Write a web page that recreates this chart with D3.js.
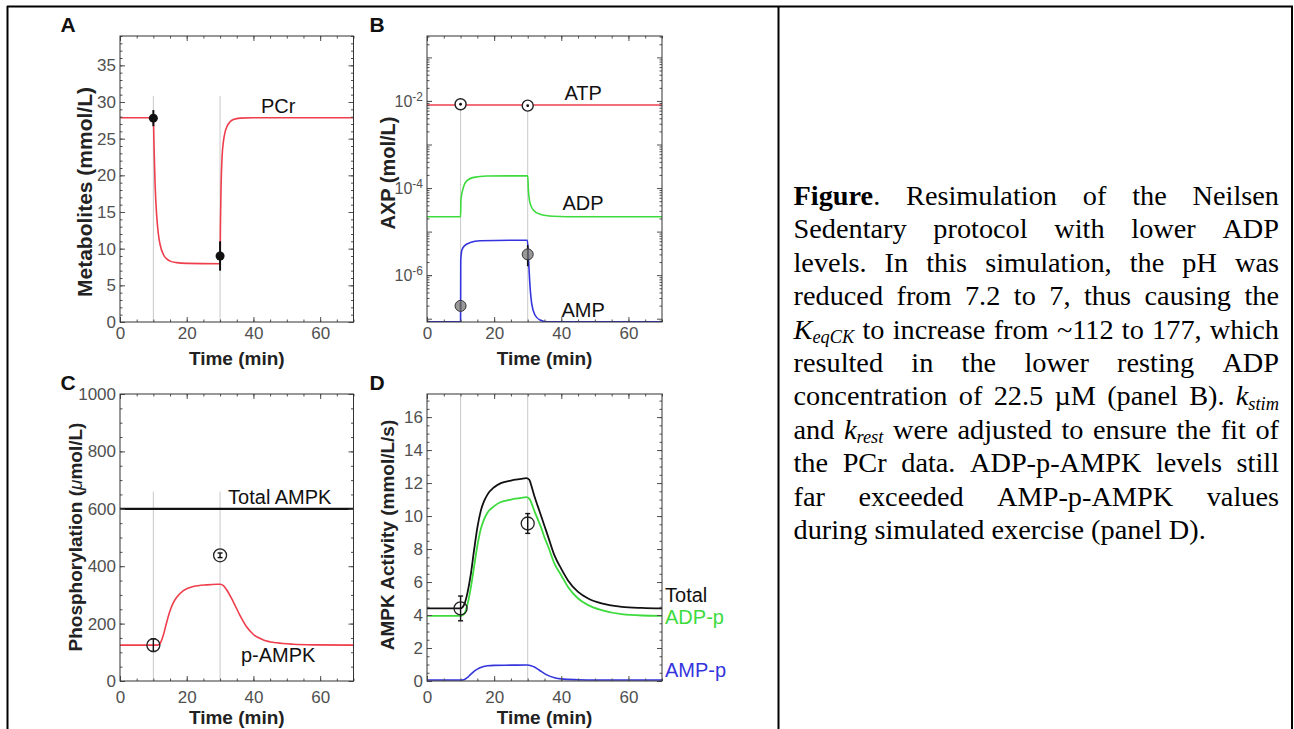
<!DOCTYPE html>
<html>
<head>
<meta charset="utf-8">
<script src="https://cdn.jsdelivr.net/npm/d3@7.9.0/dist/d3.min.js"></script>
<style>
  body { margin: 0; background: #fff; }
  svg { display: block; }
</style>
</head>
<body>
<svg id="fig" width="1294" height="729"></svg>
<script>
// ---------- data ----------
// shared time axis (min)
const timeDomain = [0, 70];
const timeMajor = [0, 20, 40, 60];
const obsTime = [10, 30];

// A: PCr (mmol/L)
const pcrTime = [0, 10, 10.2, 10.5, 11, 11.5, 12, 13, 14, 15, 17, 20, 30, 30.1, 30.3, 30.6, 31, 31.5, 32, 33, 34, 36, 40, 70];
const pcrConc = [27.85, 27.85, 24, 19, 14.5, 12, 10.6, 9.2, 8.6, 8.3, 8.1, 8.0, 7.95, 13, 18.5, 22.5, 24.6, 25.9, 26.6, 27.3, 27.6, 27.8, 27.85, 27.85];
const pcrObs = [27.8, 9.0];
const pcrObsErr = [1.1, 2.0];

// B: adenine nucleotides (mol/L)
const atpTime = [0, 70];
const atpConc = [8.1e-3, 8.1e-3];
const adpTime = [0, 10, 10.1, 10.9, 11.9, 13.9, 17.8, 30, 30.2, 30.7, 31.7, 33.7, 37.6, 41.6, 70];
const adpConc = [2.2e-5, 2.2e-5, 5.3e-5, 1.07e-4, 1.48e-4, 1.76e-4, 1.89e-4, 1.92e-4, 9.0e-5, 4.5e-5, 3.1e-5, 2.5e-5, 2.25e-5, 2.2e-5, 2.2e-5];
const ampTime = [0, 10, 10.05, 10.4, 11.4, 12.9, 15.8, 29.9, 30.3, 30.7, 31.2, 32.2, 33.7, 35.7, 70];
const ampConc = [8.5e-8, 8.5e-8, 2.2e-6, 3.8e-6, 4.9e-6, 5.6e-6, 6.15e-6, 6.35e-6, 1.86e-6, 5.4e-7, 2.2e-7, 1.2e-7, 9.3e-8, 8.5e-8, 8.5e-8];
const atpObs = [8.4e-3, 7.8e-3];
const ampObs = [1.97e-7, 3.0e-6];
const ampObsLo = [1.6e-7, 1.6e-6];
const ampObsHi = [2.4e-7, 4.9e-6];

// C: phosphorylation (umol/L)
const pampkTime = [0, 10, 11.5, 12, 13, 14, 15, 16, 17, 19, 22, 26, 29, 30, 31, 32, 34, 36, 38, 40, 43, 47, 52, 58, 70];
const pampkConc = [125, 125, 126, 130, 160, 205, 245, 273, 292, 315, 329, 335, 337, 337, 332, 317, 275, 228, 188, 162, 143, 133, 128, 126, 125];
const totalAmpkTime = [0, 70];
const totalAmpkConc = [600, 600];
const pampkObs = [125, 438];
const pampkObsErr = [22, 8];

// D: AMPK activity (mmol/L/s)
const actTime = [0, 10, 11, 12, 13, 14, 15, 16, 17, 18, 20, 22, 25, 28, 29.5, 30.5, 31, 32, 33, 34, 35, 36, 38, 40, 42, 45, 48, 52, 58, 64, 70];
const actTotal = [4.4, 4.4, 4.6, 5.3, 6.4, 7.9, 9.3, 10.3, 10.9, 11.3, 11.75, 12.0, 12.15, 12.25, 12.3, 12.2, 11.9, 11.2, 10.6, 10.0, 9.4, 8.8, 7.6, 6.8, 6.1, 5.4, 5.0, 4.7, 4.5, 4.43, 4.4];
const actAdp = [3.95, 3.95, 4.05, 4.6, 5.6, 6.9, 8.2, 9.2, 9.8, 10.2, 10.6, 10.85, 11.0, 11.1, 11.15, 11.05, 10.85, 10.3, 9.8, 9.3, 8.7, 8.2, 7.1, 6.4, 5.7, 5.0, 4.6, 4.3, 4.05, 3.97, 3.95];
const actAmpTime = [0, 10, 11, 12, 13, 14, 15, 16, 18, 20, 25, 30, 31, 32, 33, 34, 35, 36, 38, 40, 45, 50, 70];
const actAmp = [0.06, 0.06, 0.08, 0.2, 0.4, 0.58, 0.72, 0.82, 0.92, 0.95, 0.96, 0.97, 0.93, 0.85, 0.72, 0.58, 0.45, 0.34, 0.2, 0.13, 0.08, 0.06, 0.06];
const actObs = [4.4, 9.55];
const actObsErr = [0.75, 0.6];

// caption (right cell of the table)
const captionLines = [
  "*Figure*. Resimulation of the Neilsen",
  "Sedentary protocol with lower ADP",
  "levels. In this simulation, the pH was",
  "reduced from 7.2 to 7, thus causing the",
  "_K_{eqCK} to increase from ~112 to 177, which",
  "resulted in the lower resting ADP",
  "concentration of 22.5 µM (panel B). _k_{stim}",
  "and _k_{rest} were adjusted to ensure the fit of",
  "the PCr data. ADP-p-AMPK levels still",
  "far exceeded AMP-p-AMPK values",
  "during simulated exercise (panel D)."
];

// ---------- drawing ----------
const svg = d3.select("#fig");
const SANS = "'Liberation Sans', Arial, Helvetica, sans-serif";
const SERIF = "'Liberation Serif', 'Times New Roman', serif";
const RED = "#ee3e4c", GREEN = "#3ddb3d", BLUE = "#3434de", GUIDE = "#c8c8c8", INK = "#505050";

const zip = (a, b) => a.map((v, i) => [v, b[i]]);
const line = (x, y) => d3.line().x(d => x(d[0])).y(d => y(d[1])).curve(d3.curveMonotoneX);

// table borders
svg.append("g").attr("stroke", "#000").attr("stroke-width", 2).attr("fill", "none")
  .selectAll("line")
  .data([[7, 6.5, 1293, 6.5], [7.5, 6, 7.5, 729], [778.5, 6, 778.5, 729], [1292, 6, 1292, 729]])
  .join("line")
  .attr("x1", d => d[0]).attr("y1", d => d[1]).attr("x2", d => d[2]).attr("y2", d => d[3]);

let clipId = 0;
function panel(x, y) {
  const g = svg.append("g");
  const id = "clip" + (clipId++);
  const [L, R] = x.range(), [B, T] = y.range();
  g.append("clipPath").attr("id", id).append("rect")
    .attr("x", L).attr("y", T).attr("width", R - L).attr("height", B - T);
  const plot = g.append("g").attr("clip-path", `url(#${id})`);
  return { g, plot };
}

function frame(g, x, y, o) {
  const [L, R] = x.range(), [B, T] = y.range();
  const clean = s => s.call(a => a.select(".domain").remove())
    .attr("color", INK).attr("font-family", SANS).attr("font-size", 17);
  const xMinor = d3.range(0, 71, 5);
  // minor ticks, all four sides
  g.append("g").attr("transform", `translate(0,${B})`)
    .call(d3.axisBottom(x).tickValues(xMinor).tickSize(-2.5).tickFormat("")).call(clean);
  g.append("g").attr("transform", `translate(0,${T})`)
    .call(d3.axisTop(x).tickValues(xMinor).tickSize(-2.5).tickFormat("")).call(clean);
  g.append("g").attr("transform", `translate(${L},0)`)
    .call(d3.axisLeft(y).tickValues(o.yMinor).tickSize(-2.5).tickFormat("")).call(clean);
  g.append("g").attr("transform", `translate(${R},0)`)
    .call(d3.axisRight(y).tickValues(o.yMinor).tickSize(-2.5).tickFormat("")).call(clean);
  // major ticks
  g.append("g").attr("transform", `translate(0,${B})`)
    .call(d3.axisBottom(x).tickValues(timeMajor).tickSize(-5).tickPadding(o.xPad)).call(clean);
  g.append("g").attr("transform", `translate(0,${T})`)
    .call(d3.axisTop(x).tickValues(timeMajor).tickSize(-5).tickFormat("")).call(clean);
  const yl = g.append("g").attr("transform", `translate(${L},0)`)
    .call(d3.axisLeft(y).tickValues(o.yTicks).tickSize(-5).tickPadding(4).tickFormat(o.yFormat || d3.format("d")))
    .call(clean);
  g.append("g").attr("transform", `translate(${R},0)`)
    .call(d3.axisRight(y).tickValues(o.yAllMajor || o.yTicks).tickSize(-5).tickFormat("")).call(clean);
  if (o.yAllMajor) {
    g.append("g").attr("transform", `translate(${L},0)`)
      .call(d3.axisLeft(y).tickValues(o.yAllMajor).tickSize(-5).tickFormat("")).call(clean);
  }
  g.append("rect").attr("x", L).attr("y", T).attr("width", R - L).attr("height", B - T)
    .attr("fill", "none").attr("stroke", "#333").attr("stroke-width", 1);
  // titles
  g.append("text").attr("x", (L + R) / 2).attr("y", o.xTitleY).attr("dy", "0.35em")
    .attr("text-anchor", "middle").attr("font-family", SANS).attr("font-size", 19)
    .attr("font-weight", "bold").attr("fill", "#222").text("Time (min)");
  const yt = g.append("text").attr("transform", `translate(${o.yTitleX},${o.yTitleY}) rotate(-90)`)
    .attr("dy", "0.35em").attr("text-anchor", "middle").attr("font-family", SANS)
    .attr("font-size", o.yTitleSize || 19).attr("font-weight", "bold").attr("fill", "#222");
  o.yTitle.forEach(p => yt.append("tspan").attr("font-style", p.i ? "italic" : null)
    .attr("font-weight", p.i ? "normal" : null).text(p.t));
  // panel letter
  g.append("text").attr("x", o.letterX).attr("y", o.letterY).attr("dy", "0.35em")
    .attr("text-anchor", "middle").attr("font-family", SANS).attr("font-size", 21)
    .attr("font-weight", "bold").attr("fill", "#111").text(o.letter);
  return yl;
}

function guides(plot, x, y, top) {
  plot.append("g").attr("stroke", GUIDE).attr("stroke-width", 1)
    .selectAll("line").data(obsTime.map((t, i) => [t, Array.isArray(top) ? top[i] : top])).join("line")
    .attr("x1", d => x(d[0])).attr("x2", d => x(d[0]))
    .attr("y1", y.range()[0]).attr("y2", d => y(d[1]));
}

function curve(plot, x, y, t, v, color, w) {
  plot.append("path").datum(zip(t, v)).attr("d", line(x, y))
    .attr("fill", "none").attr("stroke", color).attr("stroke-width", w || 1.6);
}

function label(g, x, y, t, v, text, color, anchor) {
  g.append("text").attr("x", x(t)).attr("y", y(v)).attr("dy", "0.35em")
    .attr("text-anchor", anchor || "middle").attr("font-family", SANS).attr("font-size", 20)
    .attr("fill", color || "#111").text(text);
}

function errorbars(g, x, y, lo, hi, cap, w) {
  const eb = g.append("g").attr("stroke", "#111").attr("stroke-width", w || 1.5);
  obsTime.forEach((t, i) => {
    eb.append("line").attr("x1", x(t)).attr("x2", x(t)).attr("y1", y(lo[i])).attr("y2", y(hi[i]));
    if (cap) {
      [lo[i], hi[i]].forEach(v => eb.append("line").attr("x1", x(t) - cap).attr("x2", x(t) + cap)
        .attr("y1", y(v)).attr("y2", y(v)));
    }
  });
}

// ----- Panel A -----
{
  const x = d3.scaleLinear().domain(timeDomain).range([120, 353.5]);
  const y = d3.scaleLinear().domain([0, 39]).range([322, 36]);
  const { g, plot } = panel(x, y);
  guides(plot, x, y, 30.8);
  curve(plot, x, y, pcrTime, pcrConc, RED);
  errorbars(g, x, y, pcrObs.map((v, i) => v - pcrObsErr[i]), pcrObs.map((v, i) => v + pcrObsErr[i]), 0, 2);
  g.selectAll(".pcrobs").data(obsTime).join("circle")
    .attr("cx", d => x(d)).attr("cy", (d, i) => y(pcrObs[i])).attr("r", 4.5).attr("fill", "#111");
  label(g, x, y, 47.4, 29.5, "PCr");
  frame(g, x, y, {
    yTicks: d3.range(0, 36, 5), yMinor: d3.range(0, 40, 1), xPad: 5, xTitleY: 358,
    yTitleX: 85, yTitleY: 192, yTitleSize: 21, yTitle: [{ t: "Metabolites (mmol/L)" }],
    letter: "A", letterX: 68, letterY: 25
  });
}

// ----- Panel B -----
{
  const x = d3.scaleLinear().domain(timeDomain).range([427, 662]);
  const y = d3.scaleLog().domain([8.4e-8, 0.31]).range([322, 36]);
  const { g, plot } = panel(x, y);
  guides(plot, x, y, atpObs);
  curve(plot, x, y, atpTime, atpConc, RED);
  curve(plot, x, y, adpTime, adpConc, GREEN);
  curve(plot, x, y, ampTime, ampConc, BLUE);
  // ATP observations: open circle with centre dot
  g.selectAll(".atp").data(obsTime).join("circle")
    .attr("cx", d => x(d)).attr("cy", (d, i) => y(atpObs[i])).attr("r", 5.5)
    .attr("fill", "#fff").attr("stroke", "#222").attr("stroke-width", 1.4);
  g.selectAll(".atpdot").data(obsTime).join("circle")
    .attr("cx", d => x(d)).attr("cy", (d, i) => y(atpObs[i])).attr("r", 1.4).attr("fill", "#111");
  errorbars(g, x, y, ampObsLo, ampObsHi, 0, 1.6);
  g.selectAll(".amp").data(obsTime).join("circle")
    .attr("cx", d => x(d)).attr("cy", (d, i) => y(ampObs[i])).attr("r", 5.5)
    .attr("fill", "#777").attr("fill-opacity", 0.75).attr("stroke", "#333").attr("stroke-width", 1);
  label(g, x, y, 46.5, 0.0153, "ATP");
  label(g, x, y, 46.5, 4.5e-5, "ADP");
  label(g, x, y, 46.5, 1.58e-7, "AMP");
  const decades = d3.range(-7, 0).map(e => 10 ** e);
  const minor = d3.range(-8, 0).flatMap(e => d3.range(2, 10).map(k => k * 10 ** e))
    .filter(v => v > 8.4e-8 && v < 0.31);
  const yl = frame(g, x, y, {
    yTicks: [1e-2, 1e-4, 1e-6], yAllMajor: decades, yMinor: minor, yFormat: () => "",
    xPad: 5, xTitleY: 358, yTitleX: 388, yTitleY: 173, yTitleSize: 20, yTitle: [{ t: "AXP (mol/L)" }],
    letter: "B", letterX: 377, letterY: 25
  });
  yl.selectAll(".tick text").each(function (d) {
    const t = d3.select(this).attr("font-size", 16);
    t.append("tspan").text("10");
    t.append("tspan").attr("dy", "-0.5em").attr("font-size", 12).text(Math.round(Math.log10(d)));
  });
}

// ----- Panel C -----
{
  const x = d3.scaleLinear().domain(timeDomain).range([120, 353.5]);
  const y = d3.scaleLinear().domain([0, 1000]).range([681, 394]);
  const { g, plot } = panel(x, y);
  guides(plot, x, y, 660);
  curve(plot, x, y, totalAmpkTime, totalAmpkConc, "#111", 2.2);
  curve(plot, x, y, pampkTime, pampkConc, RED);
  errorbars(g, x, y, pampkObs.map((v, i) => v - pampkObsErr[i]), pampkObs.map((v, i) => v + pampkObsErr[i]), 2.5, 1.4);
  g.selectAll(".pobs").data(obsTime).join("circle")
    .attr("cx", d => x(d)).attr("cy", (d, i) => y(pampkObs[i])).attr("r", 6.5)
    .attr("fill", "none").attr("stroke", "#222").attr("stroke-width", 1.3);
  label(g, x, y, 47.9, 641, "Total AMPK");
  label(g, x, y, 47.4, 91, "p-AMPK");
  frame(g, x, y, {
    yTicks: d3.range(0, 1001, 200), yMinor: d3.range(0, 1001, 50), xPad: 10, xTitleY: 717,
    yTitleX: 75, yTitleY: 537,
    yTitle: [{ t: "Phosphorylation (" }, { t: "μ", i: true }, { t: "mol/L)" }],
    letter: "C", letterX: 68, letterY: 383
  });
}

// ----- Panel D -----
{
  const x = d3.scaleLinear().domain(timeDomain).range([427, 662]);
  const y = d3.scaleLinear().domain([0, 17.4]).range([681, 394]);
  const { g, plot } = panel(x, y);
  guides(plot, x, y, 17.4);
  curve(plot, x, y, actTime, actTotal, "#111", 1.8);
  curve(plot, x, y, actTime, actAdp, GREEN, 1.8);
  curve(plot, x, y, actAmpTime, actAmp, BLUE);
  errorbars(g, x, y, actObs.map((v, i) => v - actObsErr[i]), actObs.map((v, i) => v + actObsErr[i]), 2.5, 1.4);
  g.selectAll(".aobs").data(obsTime).join("circle")
    .attr("cx", d => x(d)).attr("cy", (d, i) => y(actObs[i])).attr("r", 6.5)
    .attr("fill", "none").attr("stroke", "#222").attr("stroke-width", 1.3);
  label(g, x, y, 70.9, 5.2, "Total", "#111", "start");
  label(g, x, y, 70.9, 3.88, "ADP-p", GREEN, "start");
  label(g, x, y, 70.9, 0.67, "AMP-p", BLUE, "start");
  frame(g, x, y, {
    yTicks: d3.range(0, 17, 2), yMinor: d3.range(0, 17.4, 0.5), xPad: 10, xTitleY: 717,
    yTitleX: 387, yTitleY: 535, yTitle: [{ t: "AMPK Activity (mmol/L/s)" }],
    letter: "D", letterX: 377, letterY: 383
  });
}

// ----- Caption, justified -----
{
  const left = 793.5, right = 1279, base0 = 204.9, step = 33.4;
  const cap = svg.append("g").attr("font-family", SERIF).attr("font-size", 28.3).attr("fill", "#000");
  const re = /\*([^*]+)\*|_([^_]+)_|\{([^}]+)\}|([^*_{}]+)/g;
  captionLines.forEach((ln, li) => {
    const y = base0 + li * step;
    const words = ln.split(" ").map(w => {
      const t = cap.append("text").attr("y", y);
      let m;
      re.lastIndex = 0;
      while ((m = re.exec(w))) {
        const s = t.append("tspan");
        if (m[1]) s.attr("font-weight", "bold").text(m[1]);
        else if (m[2]) s.attr("font-style", "italic").text(m[2]);
        else if (m[3]) s.attr("font-style", "italic").attr("font-size", "0.65em").attr("dy", "0.25em").text(m[3]);
        else s.text(m[4]);
      }
      return { t, w: t.node().getComputedTextLength() };
    });
    const total = d3.sum(words, d => d.w);
    const last = li === captionLines.length - 1;
    const gap = last ? 7 : (right - left - total) / (words.length - 1);
    let cx = left;
    words.forEach(d => { d.t.attr("x", cx); cx += d.w + gap; });
  });
}
</script>
</body>
</html>
